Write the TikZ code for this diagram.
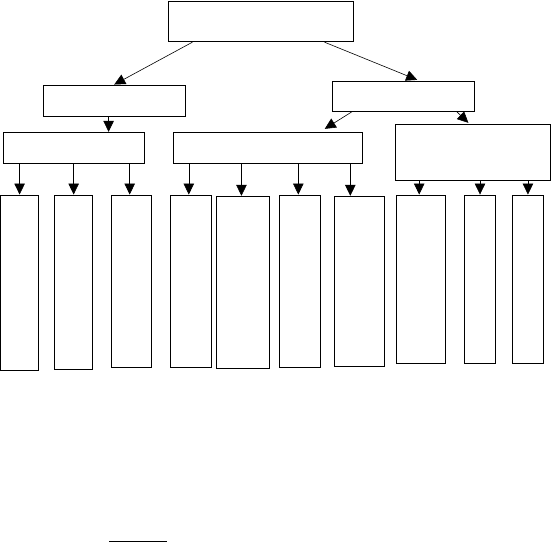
\documentclass[tikz,border=0pt]{standalone}
\usepackage{tikz}
\usetikzlibrary{arrows.meta,positioning,calc}

\begin{document}
\begin{tikzpicture}[x=1pt, y=-1pt,
    box/.style={draw, line width=0.9pt, inner sep=0pt},
    arr/.style={line width=0.6pt, -{Triangle[width=10.5pt,length=11pt]}}]
        \useasboundingbox (0,0) rectangle (551,543);

        % Top level
        \node[box, minimum width=185pt, minimum height=40.7pt] (top) at (261.25,21.35) {};

        % Second level
        \node[box, minimum width=142pt, minimum height=31.3pt] (leftmid) at (114.2,100.65) {};
        \node[box, minimum width=141.6pt, minimum height=30.3pt] (rightmid) at (403.2,96.15) {};

        % Third level
        \node[box, minimum width=141.3pt, minimum height=31pt] (groupA) at (74.15,147.8) {};
        \node[box, minimum width=189.1pt, minimum height=31pt] (groupB) at (267.75,147.8) {};
        \node[box, minimum width=154.6pt, minimum height=56pt] (groupC) at (472.9,152.3) {};

        % Leaves
        \node[box, minimum width=38.2pt, minimum height=175.7pt] (leafA1) at (19.6,282.85) {};
        \node[box, minimum width=38.3pt, minimum height=174.3pt] (leafA2) at (73.65,282.15) {};
        \node[box, minimum width=40.4pt, minimum height=172.3pt] (leafA3) at (131.6,281.15) {};
        \node[box, minimum width=40.8pt, minimum height=172.3pt] (leafB1) at (190.8,281.15) {};
        \node[box, minimum width=53.1pt, minimum height=172pt] (leafB2) at (242.95,282.3) {};
        \node[box, minimum width=40.8pt, minimum height=172.3pt] (leafB3) at (299.7,281.15) {};
        \node[box, minimum width=50.2pt, minimum height=170pt] (leafB4) at (359.3,281.3) {};
        \node[box, minimum width=49.6pt, minimum height=168pt] (leafC1) at (421.1,279) {};
        \node[box, minimum width=31.6pt, minimum height=168pt] (leafC2) at (480,279) {};
        \node[box, minimum width=31.3pt, minimum height=168pt] (leafC3) at (527.95,279) {};

        % Upper arrows
        \draw[arr] ($(top.south west)!0.13!(top.south east)$) -- (leftmid.north);
        \draw[arr] ($(top.south west)!0.84!(top.south east)$) -- ([xshift=14pt, yshift=0.7pt]rightmid.north);
        \draw[arr] ([xshift=-5.6pt]leftmid.south) -- ([xshift=-5.6pt]leftmid.south |- groupA.north);
        \draw[arr] ([xshift=20pt]rightmid.south west) -- ([xshift=57pt, yshift=3pt]groupB.north);
        \draw[arr] ([xshift=53.6pt]rightmid.south) -- ([xshift=-4.5pt, yshift=1pt]groupC.north);

        % Arrows to leaves
        \foreach \grp/\leaf/\dx in {groupA/leafA1/0, groupA/leafA2/0, groupA/leafA3/-1.9,
                                   groupB/leafB1/-2, groupB/leafB2/-1.5, groupB/leafB3/-1.4, groupB/leafB4/-9,
                                   groupC/leafC1/-1.9, groupC/leafC2/0, groupC/leafC3/0}
            \draw[arr] ([xshift=\dx pt]\leaf.north |- \grp.south) -- ([xshift=\dx pt]\leaf.north);

        % Short rule at the bottom
        \coordinate (ruleL) at (109,541.5);
        \coordinate (ruleR) at (166.5,541.5);
        \draw[line width=0.9pt] (ruleL) -- (ruleR);
    \end{tikzpicture}
\end{document}
